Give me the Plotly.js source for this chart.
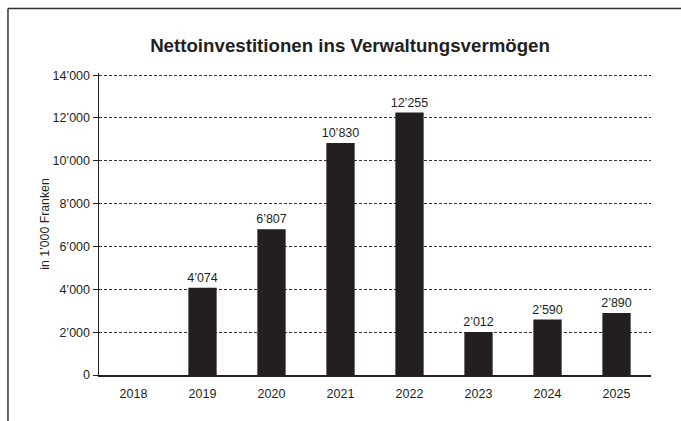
<!DOCTYPE html>
<html>
<head>
<meta charset="utf-8">
<script src="https://cdn.plot.ly/plotly-3.0.1.min.js"></script>
<style>
  html, body { margin: 0; padding: 0; background: #fff; }
  #chart { width: 681px; height: 421px; }
</style>
</head>
<body>
<div id="chart"></div>
<script>
const years = ['2018', '2019', '2020', '2021', '2022', '2023', '2024', '2025'];
const values = [0, 4074, 6807, 10830, 12255, 2012, 2590, 2890];
const yTicks = [0, 2000, 4000, 6000, 8000, 10000, 12000, 14000];

function fmt(v) {
  return String(v).replace(/\B(?=(\d{3})+(?!\d))/g, '\u2019');
}
const labels = values.map(v => v ? fmt(v) : '');

const ink = '#231f20';
const font = 'Liberation Sans, Arial, Helvetica, sans-serif';

const trace = {
  type: 'bar',
  x: years,
  y: values,
  text: labels,
  textposition: 'outside',
  constraintext: 'none',
  textfont: { family: font, size: 12.5, color: ink },
  cliponaxis: false,
  marker: { color: ink, line: { width: 0 } },
  hoverinfo: 'none'
};

const layout = {
  width: 681,
  height: 421,
  margin: { l: 99, r: 30, t: 73.4, b: 45.5, pad: 0 },
  paper_bgcolor: '#ffffff',
  plot_bgcolor: '#ffffff',
  separators: '.\u2019',
  showlegend: false,
  bargap: 0.59,
  font: { family: font, size: 12, color: ink },
  title: {
    text: '<b>Nettoinvestitionen ins Verwaltungsvermögen</b>',
    font: { family: font, size: 18.7, color: ink },
    xref: 'container', x: 0.514, xanchor: 'center',
    yref: 'container', y: 0.891, yanchor: 'middle'
  },
  xaxis: {
    type: 'category',
    showgrid: false,
    showline: true,
    linecolor: ink,
    linewidth: 1.5,
    ticks: '',
    tickfont: { family: font, size: 12.5, color: ink },
    ticklabelstandoff: 6,
    zeroline: false,
    fixedrange: true
  },
  yaxis: {
    range: [0, 14100],
    tickmode: 'array',
    tickvals: yTicks,
    tickformat: ',',
    showgrid: true,
    gridcolor: '#333333',
    gridwidth: 1,
    griddash: '3px,2px',
    showline: true,
    linecolor: ink,
    linewidth: 1.5,
    ticks: 'outside',
    ticklen: 5,
    tickcolor: ink,
    tickwidth: 1,
    tickfont: { family: font, size: 12.5, color: ink },
    zeroline: false,
    title: {
      text: 'in 1\u2019000 Franken',
      font: { family: font, size: 12.3, color: ink },
      standoff: 0
    },
    automargin: false,
    fixedrange: true
  },
  shapes: [
    { type: 'line', xref: 'paper', yref: 'paper', x0: -0.1649, x1: 1.06, y0: 1.2135, y1: 1.2135,
      line: { color: '#333333', width: 1.5 } },
    { type: 'line', xref: 'paper', yref: 'paper', x0: -0.1649, x1: -0.1649, y0: 1.2135, y1: -0.17,
      line: { color: '#333333', width: 1.5 } }
  ]
};

Plotly.newPlot('chart', [trace], layout, { displayModeBar: false, staticPlot: true });
</script>
</body>
</html>
